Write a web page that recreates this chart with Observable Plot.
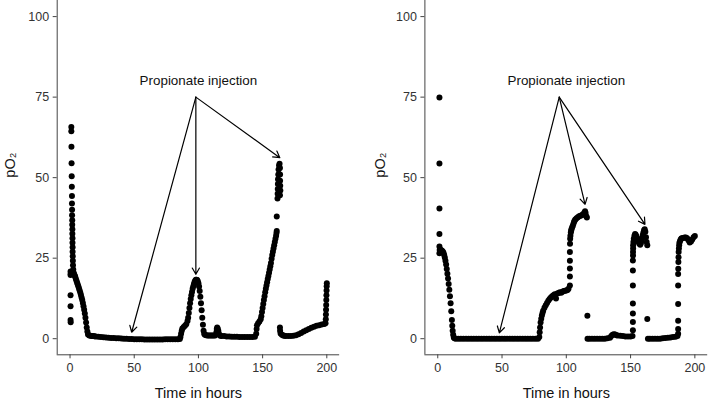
<!DOCTYPE html>
<html>
<head>
<meta charset="utf-8">
<script src="https://cdn.jsdelivr.net/npm/d3@7"></script>
<script src="https://cdn.jsdelivr.net/npm/@observablehq/plot@0.6"></script>
<style>
  body { margin: 0; background: white; }
  #wrap { position: relative; width: 709px; height: 403px; background: white; }
  #wrap > svg { position: absolute; top: 0; }
</style>
</head>
<body>
<div id="wrap"></div>
<script>
// ---- data (time in hours, pO2) ----
const xTicks = [0, 50, 100, 150, 200];
const yTicks = [0, 25, 50, 75, 100];
const xTitle = "Time in hours";
const yTitle = "pO₂";
const noteText = "Propionate injection";

const leftSeries = [
  [0.4,20.9],[0.5,20.2],[0.4,19.8],[0.4,13.5],[0.4,10.1],[0.4,5.8],[0.5,5.1],
  [1.0,65.7],[1.0,64.4],[1.1,59.6],[1.2,54.5],[1.3,50.4],[1.4,47.2],[1.5,44.3],[1.5,42],[1.6,40],
  [1.6,38.3],[1.7,36.8],[1.7,35.4],[1.8,34],[1.8,32.6],[1.9,31.2],[1.9,29.8],[2.0,28.4],[2.0,27],
  [2.1,25.6],[2.2,24.2],[2.3,22.8],[2.5,21.5],[2.8,20.5],[3.2,20],
  [3.6,19.6],[4,19.2],[4.5,18.6],[5,18],[5.5,17.4],[6,16.8],[6.5,16.2],[7,15.6],[7.5,15],[8,14.3],
  [8.5,13.6],[9,12.8],[9.5,12],[10,11.1],[10.5,10.1],[11,9],[11.5,7.8],[12,6.5],[12.5,5],[13,3.5],
  [13.5,2.2],[14,1.3],[15,1.0],
  [16,0.9],[17,0.85],[18,0.8],[19,0.75],[20,0.7],[22,0.6],[24,0.5],[26,0.45],[28,0.4],[30,0.3],
  [32,0.25],[34,0.2],[36,0.15],[38,0.1],[40,0.05],[42,0],[44,-0.05],[46,-0.1],[48,-0.1],[50,-0.15],
  [52,-0.2],[54,-0.2],[56,-0.2],[58,-0.25],[60,-0.25],[62,-0.25],[64,-0.25],[66,-0.25],[68,-0.25],
  [70,-0.25],[72,-0.25],[74,-0.2],[76,-0.2],[78,-0.2],[80,-0.2],[82,-0.2],[84,-0.2],[85.5,-0.1],
  [86,0.5],[86.5,1.5],[87,2.5],[87.5,3.2],[88.5,3.6],[89.5,4],[90.5,4.5],[91.5,5.5],[92,6.5],
  [92.5,8],[93,9.5],[93.5,11],[94,12.3],[94.5,13.5],[95,14.5],[95.5,15.5],[96,16.3],[96.5,17],
  [97,17.6],[97.5,18],[98,18.3],[98.5,18.3],[99,18.2],[99.5,17.8],[100,17.2],[100.5,16.2],[101,14.8],
  [101.5,13],[102,11],[102.5,8.8],[103,6.5],[103.5,4.3],[104,2.5],[104.5,1.5],[105,1.2],
  [106,1.1],[107,1.0],[108,1.0],[109,1.0],[110,1.0],[111,1.0],[112,1.0],[113,1.0],[114,2],[114.3,3],
  [114.6,3.5],[115,3.2],[115.5,2.5],[116,1.5],[117,0.9],[118,0.8],[120,0.8],[122,0.7],[124,0.7],
  [126,0.6],[128,0.6],[130,0.6],[132,0.5],[134,0.5],[136,0.5],[138,0.5],[140,0.5],[142,0.5],[144,0.6],
  [145,1.5],[145.3,3],[145.6,4.2],[146.5,4.8],[147.5,5.3],[148.5,6],[149,7],[149.5,8.3],[150,9.5],
  [150.5,10.8],[151,12],[151.5,13.2],[152,14.4],[152.5,15.5],[153,16.5],[153.5,17.5],[154,18.5],
  [154.5,19.5],[155,20.5],[155.5,21.5],[156,22.5],[156.5,23.5],[157,24.8],[157.5,26],[158,27],
  [158.5,28],[159,29],[159.5,30],[160,31],[160.5,32],[160.8,32.8],[161,33.4],[161,37.9],
  [161.6,43.5],[161.7,45],[161.8,46.5],[161.9,48],[162,49.5],[162.2,51],[162.4,52.5],[162.8,53.8],
  [163.2,54.3],[163.5,53],[163.6,51],[163.6,49],[163.7,47.5],[163.8,46],[163.5,44.5],
  [163.5,3.5],[163.6,2.5],[164,1.6],[165,1.2],[166,1.0],[167,0.9],[168,0.8],[170,0.8],[172,0.8],
  [174,0.9],[176,1.1],[178,1.4],[180,1.8],[182,2.2],[184,2.6],[186,3.0],[188,3.4],[190,3.7],
  [192,4.0],[194,4.2],[196,4.4],[198,4.6],[199,4.8],[199.2,6],[199.3,7.5],[199.4,9],[199.5,10.5],
  [199.6,12],[199.7,13.5],[199.8,15],[199.9,16.3],[200,17.2]
];

const rightSeries = [
  [1.3,74.9],[1.3,54.4],[1.3,40.4],[1.3,32.5],[1.3,28.6],[1.3,26.5],
  [1.5,27.5],[2,27.6],[2.5,27.5],[3,27.4],[3.5,27.2],[4,27],[4.5,26.6],[5,26],[5.5,25.2],[6,24.2],
  [6.5,23],[7,21.6],[7.5,20.2],[8,18.7],[8.5,17],[9,15.2],[9.5,13.2],[10,11],[10.5,8.5],[11,5.8],
  [11.3,4],[11.6,2.5],[12,1.2],[12.5,0.4],[13,0.1],
  [14,0],[16,0],[18,0],[20,0],[22,0],[24,0],[26,0],[28,0],[30,0],[32,0],[34,0],[36,0],[38,0],
  [40,0],[42,0],[44,0],[46,0],[48,0],[50,0],[52,0],[54,0],[56,0],[58,0],[60,0],[62,0],[64,0],
  [66,0],[68,0],[70,0],[72,0],[74,0],[76,0],[78,0],
  [79,0.5],[79.3,2],[79.6,3.5],[80,5],[80.5,6.2],[81,7.2],[81.5,8],[82,8.7],[83,9.6],[84,10.4],
  [85,11.1],[86,11.8],[87,12.3],[88,12.8],[89,13.2],[90,13.5],[91,13.8],[92,12.5],[93,14],[94,14.2],
  [95,14.4],[96,14.3],[97,14.6],[98,14.8],[99,14.9],[100,15],[101,15.1],[101.7,15.5],
  [102.8,16.5],[102.8,19.3],[102.8,21.8],[102.8,24.2],[102.8,26.9],[102.9,29.5],[103,31],
  [103.2,32],[103.5,33],[103.8,33.5],[104,34],[104.5,34.5],[105,35],[105.5,35.6],[106,36.2],
  [106.5,36.6],[107,37],[108,37.4],[109,37.7],[110,38],[111,38.2],[112,38.3],[113,38.6],[114,39.1],
  [114.6,39.6],[115,39],[115.5,38],[116,37.6],
  [116.4,7.1],
  [116.5,0],[118,0],[120,0],[122,0],[124,0],[126,0],[128,0],[130,0],[132,0.1],[134,0.3],[135,0.8],
  [136,1.2],[137,1.4],[138,1.3],[139,1.1],[140,1.0],[142,0.9],[144,0.8],[146,0.7],[148,0.7],
  [150,0.7],[151.5,0.8],
  [151.8,2.6],[151.8,5.2],[151.8,7.8],[151.8,10.9],[151.8,16.5],[151.8,21.2],[151.8,24.3],
  [151.9,25.8],[151.9,26.9],[152,28],[152,29],[152.2,30],[152.5,31],[153,32],[153.5,32.5],
  [154,32.3],[154.5,31.8],[155,31.3],[155.5,30.8],[156,30.3],[156.5,29.8],[157,29.5],[157.5,29.2],
  [158,29.6],[158.5,30.4],[159,31.3],[159.5,32.2],[160,33],[160.5,33.7],[161,34],[161.5,33.2],
  [162,31.5],[162.5,30],[163,29],
  [163,6.1],
  [163.5,0],[165,0],[167,0],[169,0],[171,0],[173,0],[175,0.1],[177,0.2],[179,0.3],[181,0.4],
  [183,0.5],[185,0.6],[186.5,0.8],
  [187,1.5],[187,3],[187,5.6],[187,10.8],[187,16.5],[187,20.1],[187.1,21.7],[187.2,23.8],
  [187.3,25.3],[187.4,26.9],[187.6,28],[187.8,29],[188,29.8],[188.5,30.3],[189,30.8],[189.5,31.1],
  [190,31.2],[191,31.3],[192,31.4],[193,31.4],[194,31.2],[195,30.6],[196,29.9],[197,30.2],
  [198,30.8],[199,31.5],[200,31.9]
];

// annotation arrows: [x1, y1, x2, y2]
const leftArrows = [[98,75,48,2],[98,75,98,20],[98,75,163.4,56.2]];
const rightArrows = [[94.5,75,47.9,1.8],[94.5,75,114.6,41.7],[94.5,75,161.2,35.5]];
const noteX = 100, noteY = 80;

const font = "'Liberation Sans', Arial, Helvetica, sans-serif";

function panel(series, arrows, {width, marginLeft, marginRight, yTitleDx}) {
  const pts = series.map(([t, v]) => ({t, v}));
  const arr = arrows.map(([x1, y1, x2, y2]) => ({x1, y1, x2, y2}));
  return Plot.plot({
    width, height: 403,
    marginLeft, marginRight, marginTop: 0, marginBottom: 48.7,
    style: {fontFamily: font, fontSize: "12.5px", color: "#333", background: "white", overflow: "visible"},
    x: {domain: [-10, 210]},
    y: {domain: [-5, 105]},
    marks: [
      Plot.ruleX([-10], {stroke: "#444", strokeWidth: 1}),
      Plot.ruleY([-5], {x1: -10, x2: 210, stroke: "#444", strokeWidth: 1}),
      Plot.axisX({ticks: xTicks, tickSize: 4, tickPadding: 4, stroke: "#444", label: null, fontSize: 12.5}),
      Plot.axisY({ticks: yTicks, tickSize: 4, tickPadding: 4, stroke: "#444", label: null, fontSize: 12.5}),
      Plot.dot(pts, {x: "t", y: "v", r: 3, fill: "black", stroke: null}),
      Plot.arrow(arr, {x1: "x1", y1: "y1", x2: "x2", y2: "y2", stroke: "black", strokeWidth: 1.2, headLength: 9}),
      Plot.text([noteText], {x: noteX, y: noteY, text: d => d, fontSize: 13.4, fill: "#111"}),
      Plot.text([xTitle], {frameAnchor: "bottom", dy: 38.5, text: d => d, fontSize: 14.5, fill: "#111", lineAnchor: "middle"}),
      Plot.text([yTitle], {frameAnchor: "left", dx: yTitleDx, rotate: -90, text: d => d, fontSize: 14.5, fill: "#111"})
    ]
  });
}

const wrap = document.getElementById("wrap");
const left = panel(leftSeries, leftArrows, {width: 355, marginLeft: 56.7, marginRight: 15.85, yTitleDx: -46.7});
left.style.left = "0px";
const right = panel(rightSeries, rightArrows, {width: 354, marginLeft: 69.4, marginRight: 1.8, yTitleDx: -44.4});
right.style.left = "355px";
wrap.appendChild(left);
wrap.appendChild(right);
</script>
</body>
</html>
